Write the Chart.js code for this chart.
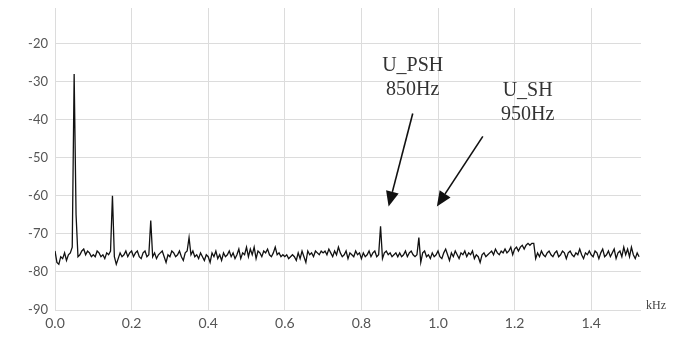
<!DOCTYPE html>
<html>
<head>
<meta charset="utf-8">
<script src="https://cdn.jsdelivr.net/npm/chart.js@4"></script>
<style>
  html, body { margin: 0; padding: 0; background: #fff; }
  #wrap { width: 679px; height: 337px; }
</style>
</head>
<body>
<div id="wrap"><canvas id="c"></canvas></div>
<script>
// spectrum, 5 Hz bins from 0 Hz, values in dB
const STEP_KHZ = 0.005;
const levels = [
  -74.5, -77.5, -78, -76, -76.5, -75, -77, -75.5, -75, -73.5, -28, -65, -76, -75.5, -74.5, -74, -75.5, -74.5, -75, -76,
  -75.5, -76, -74.5, -75, -76, -75.5, -76.5, -75, -75.5, -74.5, -60, -76, -78, -76.5, -75, -76, -75.5, -74.5, -76, -75,
  -74.5, -76, -75, -74.5, -76, -76.5, -75, -74.5, -76, -75.5, -66.5, -76, -75, -76.5, -75.5, -75, -74.5, -76, -77.5, -75.5,
  -76, -74.5, -75, -76, -75.5, -74.5, -76, -77, -75, -74.5, -71, -75.5, -74.5, -76, -75.5, -76.5, -75, -76, -77, -75.5,
  -76, -77.5, -75, -76, -74.5, -76.5, -75.5, -77, -75, -76, -75.5, -74.5, -76, -75, -76.5, -75.5, -74, -76.5, -75, -75.5,
  -73.5, -76, -74, -75.5, -73.5, -76.5, -74.5, -75, -76, -74.5, -75, -74, -75.5, -76, -75, -73.5, -75.5, -75, -76, -75.5,
  -76, -75.5, -76.5, -76, -75.5, -76, -77, -75, -76.5, -74.5, -76, -77.5, -74.5, -75.5, -75, -76, -74.5, -75, -75.5, -74.5,
  -75, -74.5, -75.5, -74, -75, -76, -74.5, -75.5, -73.5, -75, -76, -75.5, -74.5, -76.5, -75, -75.5, -76, -74.5, -75.5, -75,
  -76.5, -75, -76, -75.5, -74.5, -76, -75, -74.5, -76, -75.5, -68, -76.5, -75, -74.5, -75.5, -75, -76, -75.5, -75, -76,
  -75, -76, -75.5, -74.5, -76, -75, -74.5, -75.5, -76, -75.5, -71, -77.5, -75, -74.5, -76, -75.5, -76.5, -75, -76, -75.5,
  -74.5, -76, -76.5, -75, -74, -75.5, -77, -75, -76, -74.5, -75.5, -76.5, -75, -75.5, -74.5, -76, -75, -75.5, -74.5, -76.5,
  -75.5, -76, -77.5, -75.5, -75, -76, -75.5, -75, -74.5, -75.5, -74, -75, -75.5, -74.5, -75, -74, -75, -74.5, -73.5, -75.5,
  -74, -73.5, -74.5, -73.5, -73, -74, -73, -72.5, -73, -72.5, -72.5, -76.5, -75, -76, -74.5, -75.5, -76, -75, -74.5, -75.5,
  -76, -75, -74.5, -76, -75.5, -74.5, -75, -76.5, -75, -74.5, -75.5, -76, -75, -75.5, -74, -75.5, -76.5, -75, -75.5, -74.5,
  -75.5, -76, -74.5, -75, -76.5, -75, -74, -76, -75.5, -74.5, -76, -75, -74, -76.5, -75, -74.5, -76, -73.5, -75.5, -74,
  -76, -73.5, -75.5, -76.5, -75, -76
];

// annotations in data units (kHz, dB)
const noteLines = [["U_PSH", "850Hz"], ["U_SH", "950Hz"]];
const noteAt = [{x: 0.934, y: -25.8}, {x: 1.234, y: -32.3}];
const arrows = [
  {from: {x: 0.934, y: -38.4}, to: {x: 0.871, y: -62.8}},
  {from: {x: 1.117, y: -44.4}, to: {x: 0.997, y: -62.8}}
];

const points = levels.map((v, i) => ({x: +(i * STEP_KHZ).toFixed(3), y: v}));

const notes = {
  id: "notes",
  afterDatasetsDraw(chart) {
    const {ctx, scales: {x, y}} = chart;
    ctx.save();
    ctx.fillStyle = "#333";
    ctx.font = "20px 'Liberation Serif', 'DejaVu Serif', serif";
    ctx.textAlign = "center";
    ctx.textBaseline = "middle";
    noteLines.forEach((lines, i) => {
      const px = x.getPixelForValue(noteAt[i].x);
      const py = y.getPixelForValue(noteAt[i].y);
      lines.forEach((t, j) => ctx.fillText(t, px, py + j * 24.5));
    });

    ctx.strokeStyle = "#111";
    ctx.fillStyle = "#111";
    ctx.lineWidth = 1.6;
    arrows.forEach(a => {
      const x1 = x.getPixelForValue(a.from.x), y1 = y.getPixelForValue(a.from.y);
      const x2 = x.getPixelForValue(a.to.x), y2 = y.getPixelForValue(a.to.y);
      const ang = Math.atan2(y2 - y1, x2 - x1);
      const len = 15, half = 6.5;
      const bx = x2 - len * Math.cos(ang), by = y2 - len * Math.sin(ang);
      ctx.beginPath();
      ctx.moveTo(x1, y1);
      ctx.lineTo(bx, by);
      ctx.stroke();
      ctx.beginPath();
      ctx.moveTo(x2, y2);
      ctx.lineTo(bx + half * Math.sin(ang), by - half * Math.cos(ang));
      ctx.lineTo(bx - half * Math.sin(ang), by + half * Math.cos(ang));
      ctx.closePath();
      ctx.fill();
    });

    // unit label at the end of the x axis
    ctx.fillStyle = "#444";
    ctx.font = "12px 'Liberation Serif', serif";
    ctx.textAlign = "left";
    ctx.fillText("kHz", chart.chartArea.right + 5, chart.chartArea.bottom - 4);
    ctx.restore();
  }
};

new Chart(document.getElementById("c"), {
  type: "line",
  data: {
    datasets: [{
      data: points,
      borderColor: "#111",
      borderWidth: 1.3,
      pointRadius: 0,
      tension: 0
    }]
  },
  options: {
    responsive: true,
    maintainAspectRatio: false,
    animation: false,
    layout: {padding: {left: 0, right: 38, top: 8, bottom: 0}},
    plugins: {legend: {display: false}, tooltip: {enabled: false}},
    scales: {
      x: {
        type: "linear",
        min: 0,
        max: 1.53,
        afterFit: s => { s.height = 27; s.paddingLeft = 0; s.paddingRight = 0; },
        grid: {color: "#dcdcdc", lineWidth: 1, drawTicks: false},
        border: {display: false},
        ticks: {
          stepSize: 0.2,
          includeBounds: false,
          padding: 5,
          color: "#555",
          font: {family: "Lato", size: 14},
          callback: v => v.toFixed(1)
        }
      },
      y: {
        min: -90,
        max: -10.7,
        afterFit: s => { s.width = 55; s.paddingTop = 0; s.paddingBottom = 0; },
        grid: {color: "#dcdcdc", lineWidth: 1, drawTicks: false},
        border: {display: false},
        ticks: {
          stepSize: 10,
          includeBounds: false,
          padding: 7,
          color: "#555",
          font: {family: "Lato", size: 13}
        }
      }
    }
  },
  plugins: [notes]
});
</script>
</body>
</html>
